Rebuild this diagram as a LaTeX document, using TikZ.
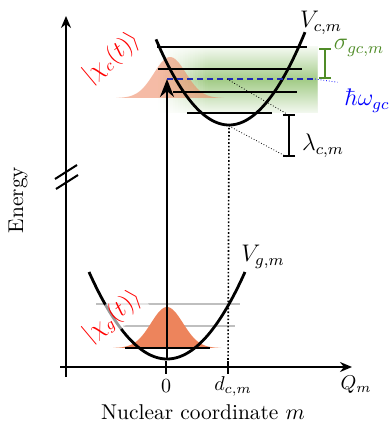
\documentclass[tikz,border=0pt]{standalone}
\usetikzlibrary{arrows.meta}
\definecolor{gaussor}{RGB}{237,132,92}
\definecolor{shgreen}{RGB}{120,180,80}
\definecolor{sigmagreen}{RGB}{80,140,40}
\definecolor{dblue}{RGB}{30,40,180}
\begin{document}
\begin{tikzpicture}[x=0.5pt,y=-0.5pt,
  axisline/.style={line width=1pt},
  axisarrow/.style={line width=1pt,-{Stealth[length=6pt,width=5pt]}},
  pes/.style={line width=1.4pt},
  lvl/.style={line width=0.8pt},
  glvl/.style={line width=0.8pt,black!25},
  tick/.style={line width=1.2pt},
  guide/.style={line width=0.4pt,densely dotted},
  lbl/.style={font=\large},
  axlbl/.style={font=\fontsize{10.7}{13}\selectfont},
  wavelbl/.style={red,font=\large,rotate=40,fill=white,fill opacity=0.6,text opacity=1,inner sep=1pt},
  barline/.style={line width=1pt,{Bar[width=6pt]}-{Bar[width=6pt]}}]
\useasboundingbox (0,0) rectangle (391,427);

% coordinates
\coordinate (gmin) at (167,359);
\coordinate (cmin) at (229,125);
\coordinate (exc) at (167,79);

% green shaded region, fading in from the left (colours pre-mixed with white)
\foreach \i in {0,...,20}{
  \pgfmathsetmacro{\fa}{8*min(1,(\i+0.5)/20)}
  \pgfmathsetmacro{\fb}{68*min(1,(\i+0.5)/20)}
  \shade[top color=shgreen!\fa, bottom color=shgreen!\fa, middle color=shgreen!\fb] ({158+2.5*\i},47) rectangle (317,113);
}

% excited wave packet
\fill[gaussor, fill opacity=0.55] plot[domain=-54:54,samples=80] ({170+\x},{98-41*exp(-(\x*\x)/512)}) -- cycle;

% excited levels
\draw[lvl] (157,47) -- (307,47);
\draw[lvl] (158,69) -- (302,69);
\draw[lvl] (173,92) -- (297,92);
\draw[lvl] (187,113) -- (272,113);

% ground levels (grey)
\draw[glvl] (96,304) -- (240,304);
\draw[glvl] (123,326) -- (235,326);

% ground wave packet
\fill[gaussor] plot[domain=-54:54,samples=80] ({167+\x},{348-41*exp(-(\x*\x)/512)}) -- cycle;
\draw[lvl] (125,348) -- (210,348);

% potentials
\draw[pes] plot[domain=-78:78,samples=60] ({167+\x},{359-87*(\x/78)^2});
\draw[pes] plot[domain=-73:76,samples=60] ({229+\x},{125-88*(\x/74)^2});

% dotted line at d_cm
\draw[lvl,densely dotted] (228,367) -- (cmin);

% excitation arrow
\draw[line width=1.2pt,-{Stealth[length=9pt,width=7pt]}] (gmin) -- (exc);

% blue dashed line
\coordinate (bluend) at (315,79);
\draw[dblue,line width=1.1pt,dash pattern=on 3pt off 2pt] (exc) -- (bluend);
\node[lbl,blue] (hw) at (367,101) {$\hbar\omega_{gc}$};
\draw[blue,line width=0.4pt,densely dotted] (bluend) -- (hw.north west);

% sigma bar
\coordinate (st) at (325,48);
\coordinate (sb) at (325,79);
\draw[barline,sigmagreen] (st) -- (sb);
\node[lbl,sigmagreen] (sig) at (359,48) {$\sigma_{gc,m}$};

% lambda bar
\coordinate (lt) at (289,114);
\coordinate (lb) at (289,157);
\draw[barline] (lt) -- (lb);
\node[lbl] (lam) at (323,146) {$\lambda_{c,m}$};
\coordinate (la) at (227,79);
\draw[guide] (la) -- (287,114);
\draw[guide] (229,126) -- (287,157);

% potential labels
\node[lbl] (vc) at (321,23) {$V_{c,m}$};
\node[lbl] (vg) at (263,257) {$V_{g,m}$};

% wave packet labels
\node[wavelbl] (xc) at (112,58) {$|\chi_c(t)\rangle$};
\node[wavelbl] (xg) at (113,317) {$|\chi_g(t)\rangle$};

% axes
\coordinate (yb) at (66,377);
\coordinate (yt) at (66,16);
\draw[axisline] (yb) -- (66,175);
\draw[axisarrow] (66,188) -- (yt);
\draw[axisline] (55,179) -- (77,165);
\draw[axisline] (56,189) -- (78,175);
\coordinate (xl) at (60,367);
\coordinate (xr) at (352,367);
\draw[axisarrow] (xl) -- (xr);
\draw[tick] (166,361) -- (166,374);
\draw[tick] (228,361) -- (228,374);
\node (t0) at (166,386) {$0$};
\node (td) at (233,386) {$d_{c,m}$};
\node (qm) at (356,385) {$Q_m$};
\node[axlbl] (xlab) at (203,412) {Nuclear coordinate $m$};
\node[axlbl,rotate=90] (ylab) at (18,200) {Energy};
\end{tikzpicture}
\end{document}
